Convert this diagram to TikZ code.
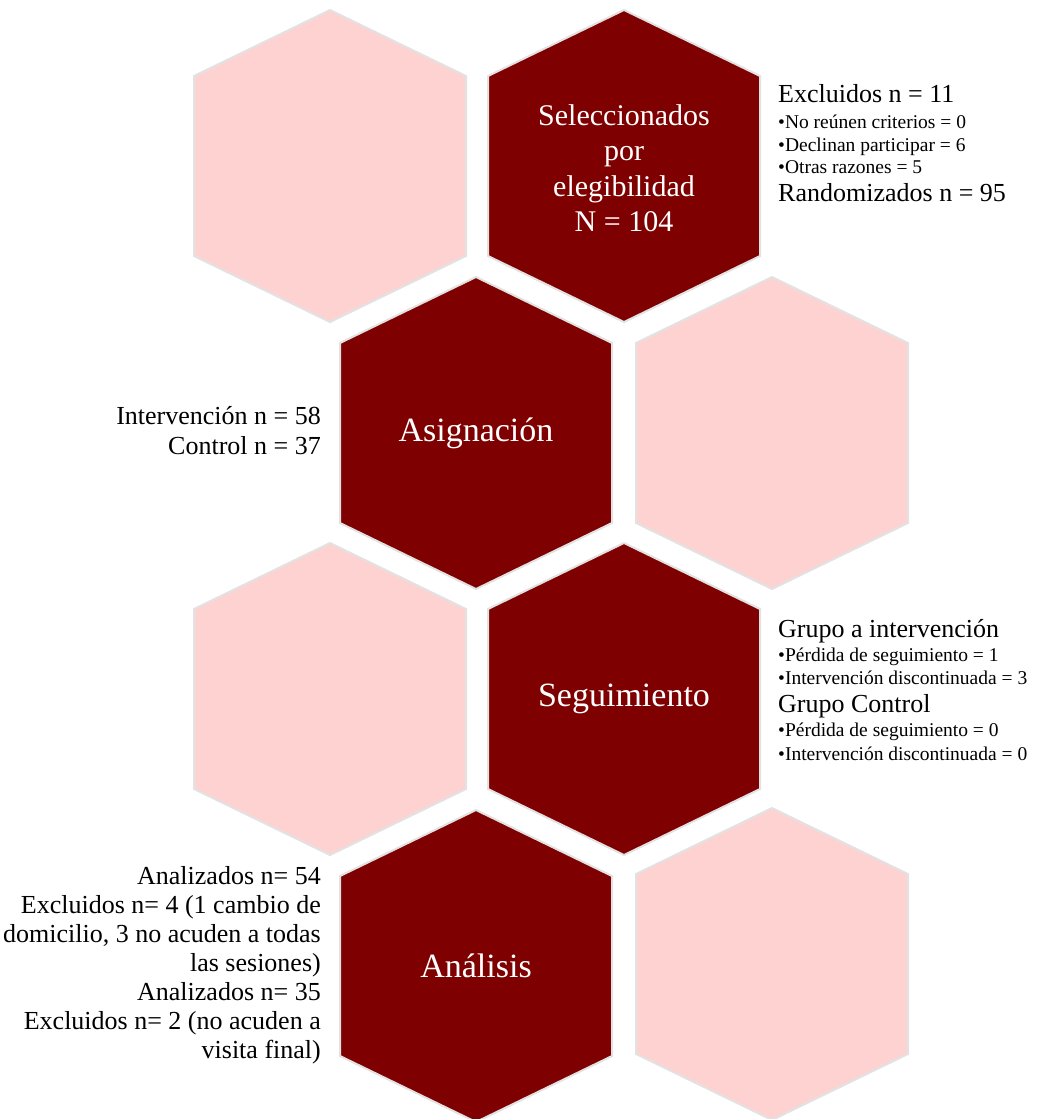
\documentclass[tikz,border=0pt]{standalone}
\usepackage{fontspec}
\setmainfont{Liberation Serif}
\usepackage{tikz}
\usepackage{xcolor}
\definecolor{granate}{HTML}{7F0000}
\definecolor{rosa}{HTML}{FFD2D2}
\definecolor{borde}{HTML}{E2E2E2}

\begin{document}
\begin{tikzpicture}[x=1pt, y=-1pt,
		oscuro/.style={fill=granate, draw=borde, line width=2pt},
		claro/.style={fill=rosa, draw=borde, line width=2pt},
		titulo/.style={text=white, align=center, inner sep=0pt, font=\fontsize{34}{40}\selectfont},
		grande/.style={inner sep=0pt, font=\fontsize{26}{29}\selectfont},
		chico/.style={inner sep=0pt, font=\fontsize{19.5}{23}\selectfont}]

			\useasboundingbox (0,0) rectangle (1057,1119);

			% fila 1
			\filldraw[claro] (330,10) -- ++(136,66) -- ++(0,180) -- ++(-136,66) -- ++(-136,-66) -- ++(0,-180) -- cycle;
			\filldraw[oscuro] (624,10) -- ++(136,66) -- ++(0,180) -- ++(-136,66) -- ++(-136,-66) -- ++(0,-180) -- cycle;
			\node[titulo, font=\fontsize{30}{35.5}\selectfont] (selec) at (624,168)
				{Seleccionados\\por\\elegibilidad\\N = 104};

			\node[grande, anchor=base west] (exclu) at (778,102) {Excluidos n = 11};
			\node[chico, anchor=base west] (noreunen) at (778,128) {•No reúnen criterios = 0};
			\node[chico, anchor=base west] (declinan) at (778,151) {•Declinan participar = 6};
			\node[chico, anchor=base west] (otras) at (778,173) {•Otras razones = 5};
			\node[grande, anchor=base west] (random) at (778,201) {Randomizados n = 95};

			% fila 2
			\filldraw[oscuro] (476,277) -- ++(136,66) -- ++(0,180) -- ++(-136,66) -- ++(-136,-66) -- ++(0,-180) -- cycle;
			\filldraw[claro] (772,277) -- ++(136,66) -- ++(0,180) -- ++(-136,66) -- ++(-136,-66) -- ++(0,-180) -- cycle;
			\node[titulo] (asig) at (476,433) {Asignación};

			\node[grande, anchor=base east] (interv) at (321,424) {Intervención n = 58};
			\node[grande, anchor=base east] (control) at (321,454) {Control n = 37};

			% fila 3
			\filldraw[claro] (330,543) -- ++(136,66) -- ++(0,180) -- ++(-136,66) -- ++(-136,-66) -- ++(0,-180) -- cycle;
			\filldraw[oscuro] (624,543) -- ++(136,66) -- ++(0,180) -- ++(-136,66) -- ++(-136,-66) -- ++(0,-180) -- cycle;
			\node[titulo] (segui) at (624,699) {Seguimiento};

			\node[grande, anchor=base west] (grupoint) at (778,637) {Grupo a intervención};
			\node[chico, anchor=base west] (perdida1) at (778,661) {•Pérdida de seguimiento = 1};
			\node[chico, anchor=base west] (discont1) at (778,684) {•Intervención discontinuada = 3};
			\node[grande, anchor=base west] (grupocon) at (778,712) {Grupo Control};
			\node[chico, anchor=base west] (perdida2) at (778,736) {•Pérdida de seguimiento = 0};
			\node[chico, anchor=base west] (discont2) at (778,760) {•Intervención discontinuada = 0};

			% fila 4
			\filldraw[oscuro] (476,810) -- ++(136,66) -- ++(0,180) -- ++(-136,66) -- ++(-136,-66) -- ++(0,-180) -- cycle;
			\filldraw[claro] (772,808) -- ++(136,66) -- ++(0,180) -- ++(-136,66) -- ++(-136,-66) -- ++(0,-180) -- cycle;
			\node[titulo] (analisis) at (476,966) {Análisis};

			\node[grande, anchor=base east] (anal1) at (321,884) {Analizados n= 54};
			\node[grande, anchor=base east] (exclu1) at (321,913) {Excluidos n= 4 (1 cambio de};
			\node[grande, anchor=base east] (exclu1b) at (321,942) {domicilio, 3 no acuden a todas};
			\node[grande, anchor=base east] (exclu1c) at (321,971) {las sesiones)};
			\node[grande, anchor=base east] (anal2) at (321,1000) {Analizados n= 35};
			\node[grande, anchor=base east] (exclu2) at (321,1029) {Excluidos n= 2 (no acuden a};
			\node[grande, anchor=base east] (exclu2b) at (321,1058) {visita final)};
		\end{tikzpicture}
\end{document}
